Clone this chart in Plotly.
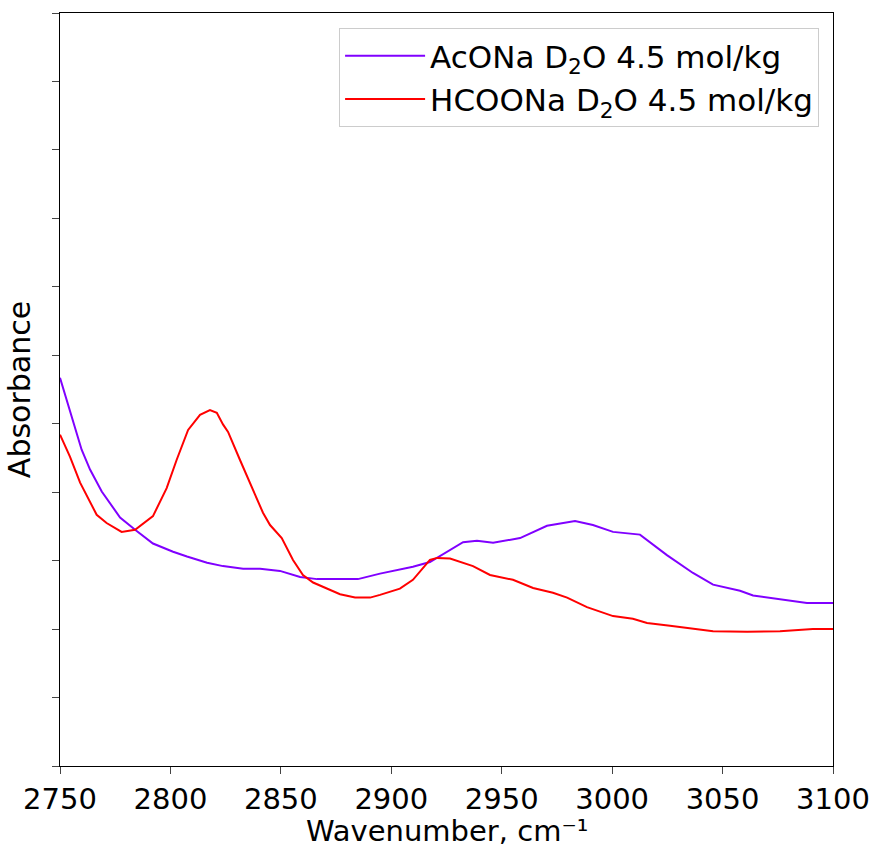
import plotly.graph_objects as go

# AcONa D2O 4.5 mol/kg
wn_acona = [2750, 2754.5, 2759.8, 2763.6, 2768.9, 2777.2, 2784.0, 2792.1, 2801.2, 2807.5,
            2816.6, 2823.8, 2832.9, 2840.6, 2849.6, 2858.7, 2866.4, 2876.8, 2884.9, 2894.9,
            2909.8, 2917.5, 2932.5, 2938.8, 2946.1, 2958.3, 2970.5, 2983.2, 2991.3, 3000.4,
            3012.6, 3024.8, 3036.6, 3045.7, 3057.9, 3063.8, 3076.0, 3088.2, 3100]
abs_acona = [0.567, 0.520, 0.462, 0.433, 0.401, 0.363, 0.345, 0.325, 0.313, 0.306,
             0.297, 0.292, 0.288, 0.288, 0.285, 0.276, 0.273, 0.273, 0.273, 0.281,
             0.291, 0.298, 0.327, 0.329, 0.326, 0.333, 0.351, 0.358, 0.352, 0.342,
             0.338, 0.308, 0.282, 0.265, 0.256, 0.249, 0.244, 0.238, 0.238]

# HCOONa D2O 4.5 mol/kg
wn_hcoona = [2750, 2754.5, 2759.1, 2766.6, 2771.1, 2777.9, 2784.0, 2792.1, 2798.3, 2802.8,
             2808.0, 2813.4, 2817.9, 2821.0, 2823.8, 2826.1, 2831.5, 2836.8, 2841.9, 2845.1,
             2850.4, 2855.5, 2860.0, 2864.6, 2870.9, 2876.8, 2883.6, 2890.4, 2894.9, 2903.9,
             2909.8, 2917.5, 2920.7, 2926.6, 2937.0, 2944.7, 2955.1, 2964.2, 2973.2, 2979.6,
             2988.6, 3000.4, 3009.4, 3015.8, 3026.2, 3045.7, 3061.1, 3076.0, 3090.9, 3100]
abs_hcoona = [0.484, 0.452, 0.414, 0.367, 0.355, 0.342, 0.345, 0.365, 0.406, 0.447,
              0.491, 0.513, 0.520, 0.516, 0.499, 0.488, 0.447, 0.408, 0.370, 0.352,
              0.333, 0.301, 0.279, 0.268, 0.259, 0.251, 0.246, 0.246, 0.250, 0.259,
              0.272, 0.301, 0.304, 0.303, 0.292, 0.279, 0.272, 0.260, 0.253, 0.246,
              0.232, 0.219, 0.215, 0.209, 0.205, 0.197, 0.196, 0.197, 0.200, 0.200]

x_ticks = [2750, 2800, 2850, 2900, 2950, 3000, 3050, 3100]

FONT = "DejaVu Sans"

fig = go.Figure()
fig.add_trace(go.Scatter(x=wn_acona, y=abs_acona, mode="lines",
                         line=dict(color="#8000ff", width=2),
                         name="AcONa D<sub>2</sub>O 4.5 mol/kg"))
fig.add_trace(go.Scatter(x=wn_hcoona, y=abs_hcoona, mode="lines",
                         line=dict(color="#ff0000", width=2),
                         name="HCOONa D<sub>2</sub>O 4.5 mol/kg"))

fig.add_annotation(text="Wavenumber, cm⁻¹", xref="paper", yref="paper",
                   x=0.5, y=-0.0612, xanchor="center", yanchor="top", showarrow=False,
                   font=dict(family=FONT, size=29, color="black"))

fig.update_layout(
    width=879, height=848,
    margin=dict(l=60, r=46, t=13, b=82, autoexpand=False),
    plot_bgcolor="white", paper_bgcolor="white",
    font=dict(family=FONT, size=29, color="black"),
    showlegend=True,
    legend=dict(x=0.982, y=0.98, xanchor="right", yanchor="top",
                bgcolor="rgba(255,255,255,0.8)", bordercolor="#cccccc", borderwidth=1,
                font=dict(family=FONT, size=31), tracegroupgap=4, itemwidth=80),
    xaxis=dict(range=[2750, 3100], tickvals=x_ticks, ticks="outside", ticklen=7,
               tickwidth=1.2, showline=True, linecolor="black", linewidth=1.2, mirror=True,
               showgrid=False, zeroline=False,
               tickfont=dict(family=FONT, size=29)),
    yaxis=dict(range=[0, 1.1], dtick=0.1, tick0=0, ticks="outside", ticklen=7,
               tickwidth=1.2, showticklabels=False, showline=True, linecolor="black",
               linewidth=1.2, mirror=True, showgrid=False, zeroline=False,
               title=dict(text="Absorbance", standoff=12, font=dict(family=FONT, size=30))),
)

fig.write_html("out.html")
